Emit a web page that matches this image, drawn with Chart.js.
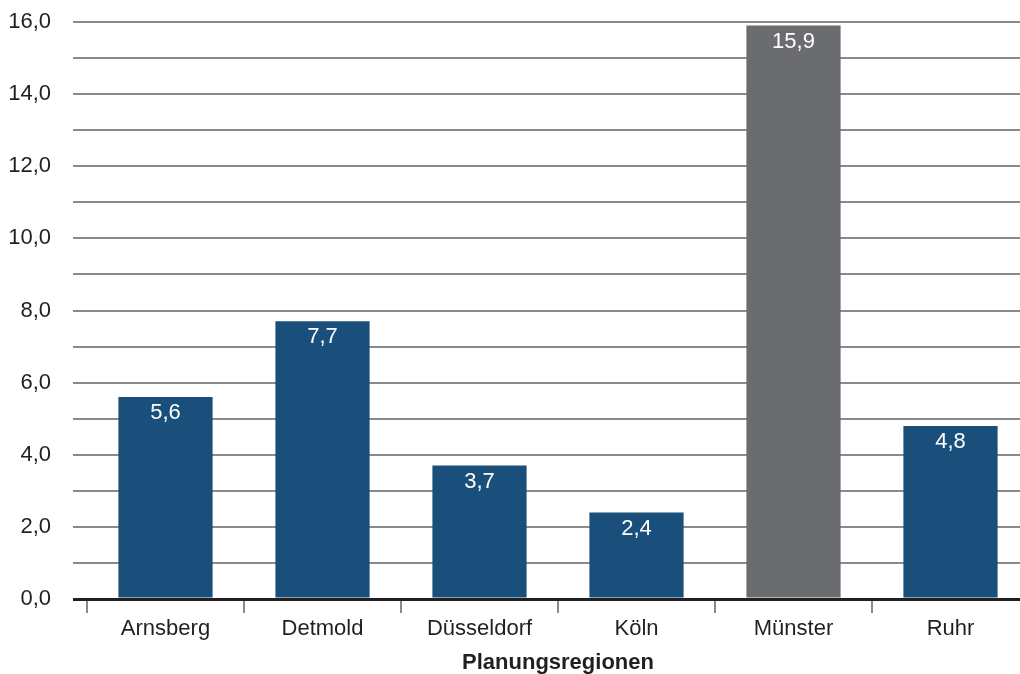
<!DOCTYPE html>
<html>
<head>
<meta charset="utf-8">
<script src="https://cdn.jsdelivr.net/npm/chart.js@4"></script>
<style>
  html, body { margin: 0; padding: 0; background: #fff; overflow: hidden; }
  #wrap { width: 1030px; height: 674px; position: relative; }
</style>
</head>
<body>
<div id="wrap"><canvas id="myChart"></canvas></div>
<script>
var regionen = ["Arnsberg", "Detmold", "Düsseldorf", "Köln", "Münster", "Ruhr"];
var werte = [5.6, 7.7, 3.7, 2.4, 15.9, 4.8];
var balkenFarben = ["#1a4f7b", "#1a4f7b", "#1a4f7b", "#1a4f7b", "#6b6c70", "#1a4f7b"];
var achsenTitel = "Planungsregionen";

function komma(v, n) {
    return v.toFixed(n).replace(".", ",");
}

// white value labels inside the top of each bar
var wertLabels = {
    id: "wertLabels",
    afterDatasetsDraw: function(chart) {
        var ctx = chart.ctx;
        var meta = chart.getDatasetMeta(0);
        ctx.save();
        ctx.fillStyle = "#ffffff";
        ctx.font = "22px 'Liberation Sans', Arial, sans-serif";
        ctx.textAlign = "center";
        ctx.textBaseline = "middle";
        meta.data.forEach(function(bar, i) {
            ctx.fillText(komma(werte[i], 1), bar.x, bar.y + 16);
        });
        ctx.restore();
    }
};

Chart.defaults.font.family = "'Liberation Sans', Arial, sans-serif";
Chart.defaults.font.size = 22;
Chart.defaults.color = "#231f20";

var ctx = document.getElementById("myChart").getContext("2d");
var chart = new Chart(ctx, {
    type: "bar",
    data: {
        labels: regionen,
        datasets: [{
            data: werte,
            backgroundColor: balkenFarben,
            borderWidth: 0,
            categoryPercentage: 1.0,
            barPercentage: 0.6
        }]
    },
    options: {
        responsive: true,
        maintainAspectRatio: false,
        animation: false,
        layout: { padding: { top: 22, right: 1, left: 0, bottom: 0 } },
        plugins: {
            legend: { display: false },
            tooltip: { enabled: false }
        },
        scales: {
            x: {
                grid: {
                    offset: true,
                    drawOnChartArea: false,
                    drawTicks: true,
                    tickLength: 14,
                    color: "#8a8a8a",
                    lineWidth: 2
                },
                border: { display: false },
                ticks: { padding: 3, color: "#231f20" },
                title: {
                    display: true,
                    text: achsenTitel,
                    font: { weight: "bold", size: 22 },
                    padding: { top: 0, bottom: -2 }
                },
                afterFit: function(scale) { scale.height = 75; }
            },
            y: {
                min: 0,
                max: 16,
                grid: {
                    color: function(c) { return c.tick && c.tick.value === 0 ? "#231f20" : "#8a8a8a"; },
                    lineWidth: function(c) { return c.tick && c.tick.value === 0 ? 3 : 2; },
                    drawTicks: true,
                    tickLength: 14
                },
                border: { display: false },
                ticks: {
                    stepSize: 1,
                    padding: 22,
                    color: "#231f20",
                    callback: function(v) {
                        return v % 2 === 0 ? komma(v, 1) : "";
                    }
                },
                afterFit: function(scale) {
                    scale.width = 87;
                    scale.paddingTop = 0;
                    scale.paddingBottom = 0;
                }
            }
        }
    },
    plugins: [wertLabels]
});
</script>
</body>
</html>
